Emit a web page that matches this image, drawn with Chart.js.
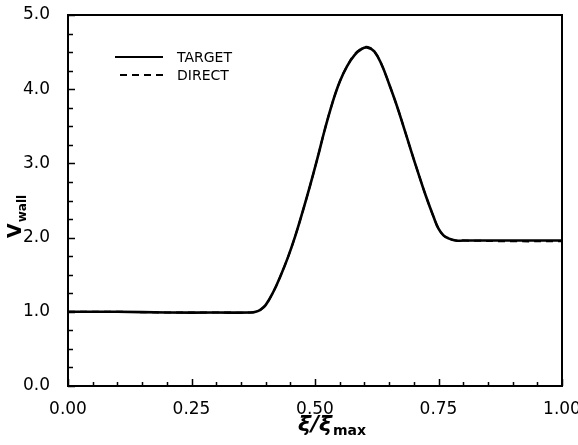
<!DOCTYPE html>
<html>
<head>
<meta charset="utf-8">
<script src="https://cdn.jsdelivr.net/npm/chart.js@4"></script>
<style>
  html, body { margin: 0; padding: 0; background: #fff; }
  #wrap { width: 578px; height: 445px; }
</style>
</head>
<body>
<div id="wrap"><canvas id="c"></canvas></div>
<script>
// values (xi / xi_max -> V_wall)
const xVals = [0.00, 0.10, 0.20, 0.30, 0.37, 0.38, 0.39, 0.40, 0.415, 0.43, 0.445, 0.46, 0.475, 0.49,
  0.505, 0.52, 0.535, 0.55, 0.565, 0.58, 0.595, 0.607, 0.62, 0.635, 0.65, 0.665, 0.68, 0.695,
  0.71, 0.725, 0.74, 0.75, 0.76, 0.77, 0.785, 0.80, 0.90, 1.00];
const targetVals = [1.00, 1.00, 0.99, 0.99, 0.99, 1.00, 1.03, 1.09, 1.26, 1.48, 1.73, 2.02, 2.35, 2.70,
  3.07, 3.46, 3.81, 4.10, 4.31, 4.46, 4.545, 4.56, 4.51, 4.33, 4.07, 3.79, 3.48, 3.16,
  2.85, 2.55, 2.28, 2.12, 2.03, 1.99, 1.96, 1.96, 1.96, 1.96];
const directVals = [1.00, 1.00, 0.99, 0.99, 0.99, 1.00, 1.03, 1.09, 1.26, 1.48, 1.73, 2.02, 2.35, 2.70,
  3.07, 3.46, 3.81, 4.10, 4.31, 4.47, 4.55, 4.57, 4.51, 4.33, 4.07, 3.79, 3.48, 3.16,
  2.85, 2.55, 2.28, 2.12, 2.03, 1.99, 1.96, 1.96, 1.95, 1.95];
const xTicks = [0, 0.25, 0.5, 0.75, 1.0];
const yTicks = [0, 1, 2, 3, 4, 5];
const xMinorStep = 0.05;
const yMinorStep = 0.25;

const FONT = "'DejaVu Sans', 'Liberation Sans', sans-serif";
const pts = (xs, ys) => xs.map((x, i) => ({ x: x, y: ys[i] }));

// frame + inward ticks
const frame = {
  id: "frame",
  afterDatasetsDraw(chart) {
    const { ctx, chartArea: a, scales: { x, y } } = chart;
    ctx.save();
    ctx.strokeStyle = "#000";
    ctx.lineWidth = 2;
    ctx.strokeRect(a.left, a.top, a.right - a.left, a.bottom - a.top);
    ctx.lineWidth = 1.5;
    ctx.beginPath();
    for (let v = x.min; v <= x.max + 1e-9; v += xMinorStep) {
      const major = xTicks.some(t => Math.abs(t - v) < 1e-6);
      const px = Math.round(x.getPixelForValue(v)) + 0.5;
      const len = major ? 7 : 4;
      ctx.moveTo(px, a.bottom);
      ctx.lineTo(px, a.bottom - len);
    }
    for (let v = y.min; v <= y.max + 1e-9; v += yMinorStep) {
      const major = yTicks.some(t => Math.abs(t - v) < 1e-6);
      const py = Math.round(y.getPixelForValue(v)) + 0.5;
      const len = major ? 7 : 5;
      ctx.moveTo(a.left, py);
      ctx.lineTo(a.left + len, py);
    }
    ctx.stroke();
    ctx.restore();
  }
};

// legend and axis titles with subscripts
const labels = {
  id: "labels",
  afterDraw(chart) {
    const { ctx, chartArea: a } = chart;
    ctx.save();
    ctx.fillStyle = "#000";
    ctx.strokeStyle = "#000";

    // legend
    const rows = [{ ds: chart.data.datasets[0], x0: 115, y: 57 }, { ds: chart.data.datasets[1], x0: 120, y: 75 }];
    rows.forEach(r => {
      ctx.lineWidth = 1.8;
      ctx.setLineDash(r.ds.borderDash || []);
      ctx.beginPath();
      ctx.moveTo(r.x0, r.y);
      ctx.lineTo(163, r.y);
      ctx.stroke();
      ctx.setLineDash([]);
      ctx.font = "14px " + FONT;
      ctx.textBaseline = "middle";
      ctx.textAlign = "left";
      ctx.fillText(r.ds.label, 177, r.y + 1);
    });

    // x title: xi / xi_max
    const cx = (a.left + a.right) / 2;
    ctx.font = "italic bold 22px " + FONT;
    ctx.textBaseline = "alphabetic";
    const main = "\u03BE/\u03BE";
    const w = ctx.measureText(main).width;
    ctx.fillText(main, cx - w / 2, 431);
    ctx.font = "bold 14px " + FONT;
    ctx.fillText("max", cx + w / 2 + 1, 435);

    // y title: V_wall
    ctx.translate(21, 238);
    ctx.rotate(-Math.PI / 2);
    ctx.font = "bold 19px " + FONT;
    ctx.fillText("V", 0, 0);
    const vw = ctx.measureText("V").width;
    ctx.font = "bold 12px " + FONT;
    ctx.fillText("wall", vw + 1, 5);
    ctx.restore();
  }
};

new Chart(document.getElementById("c"), {
  type: "scatter",
  data: {
    datasets: [
      {
        label: "TARGET",
        data: pts(xVals, targetVals),
        showLine: true,
        borderColor: "#000",
        borderWidth: 2.6,
        pointRadius: 0,
        tension: 0.4,
        order: 1
      },
      {
        label: "DIRECT",
        data: pts(xVals, directVals),
        showLine: true,
        borderColor: "#000",
        borderWidth: 2,
        borderDash: [7, 5],
        pointRadius: 0,
        tension: 0.4,
        order: 2
      }
    ]
  },
  options: {
    responsive: true,
    maintainAspectRatio: false,
    animation: false,
    events: [],
    layout: { padding: { top: 15, right: 16, left: 0, bottom: 0 } },
    plugins: { legend: { display: false }, tooltip: { enabled: false } },
    scales: {
      x: {
        type: "linear",
        min: 0, max: 1,
        grid: { display: false },
        border: { display: false },
        afterBuildTicks: s => { s.ticks = xTicks.map(v => ({ value: v })); },
        afterFit: s => { s.height = 59; s.paddingLeft = 0; s.paddingRight = 0; },
        ticks: {
          color: "#000",
          padding: 5,
          maxRotation: 0,
          font: { family: FONT, size: 17 },
          callback: v => v.toFixed(2)
        }
      },
      y: {
        type: "linear",
        min: 0, max: 5,
        grid: { display: false },
        border: { display: false },
        afterBuildTicks: s => { s.ticks = yTicks.map(v => ({ value: v })); },
        afterFit: s => { s.width = 68; s.paddingTop = 0; s.paddingBottom = 0; },
        ticks: {
          color: "#000",
          padding: 10,
          font: { family: FONT, size: 17 },
          callback: v => v.toFixed(1)
        }
      }
    }
  },
  plugins: [frame, labels]
});
</script>
</body>
</html>
